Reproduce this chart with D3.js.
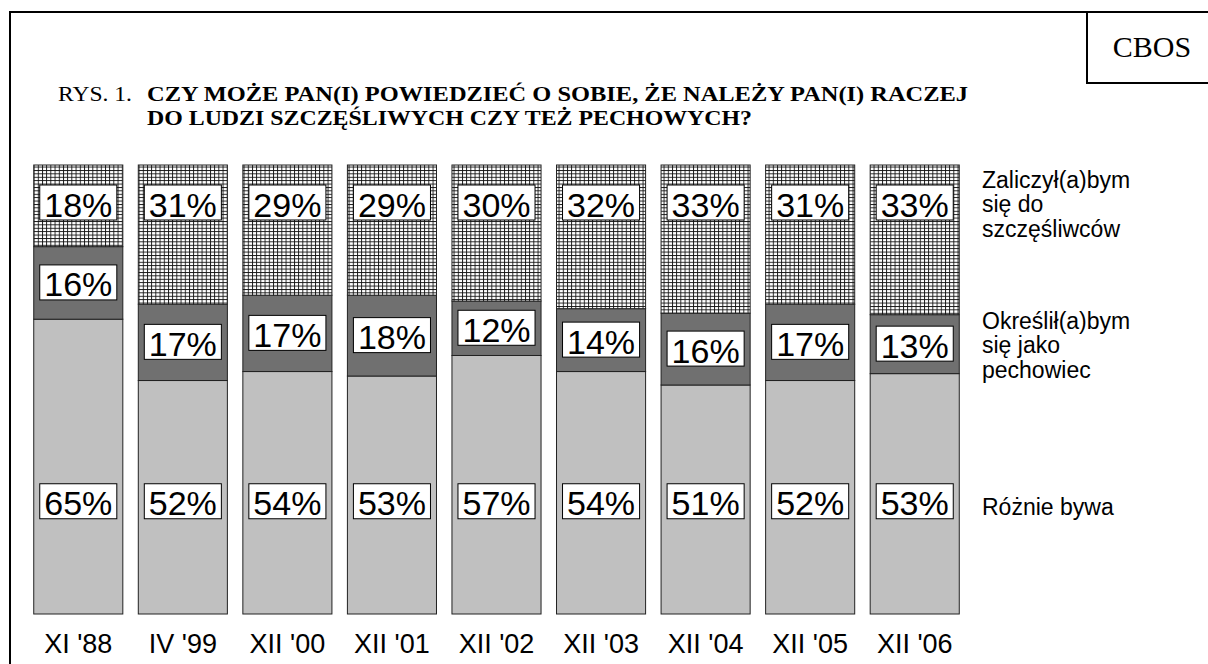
<!DOCTYPE html>
<html>
<head>
<meta charset="utf-8">
<script src="https://cdn.jsdelivr.net/npm/d3@7/dist/d3.min.js"></script>
<style>
  html, body { margin: 0; padding: 0; background: #fff; }
  svg { display: block; }
</style>
</head>
<body>
<div id="chart"></div>
<script>
'use strict';

// survey waves
const categories = ["XI '88", "IV '99", "XII '00", "XII '01", "XII '02", "XII '03", "XII '04", "XII '05", "XII '06"];

// answers, in percent
const lucky = [18, 31, 29, 29, 30, 32, 33, 31, 33];
const unlucky = [16, 17, 17, 18, 12, 14, 16, 17, 13];
const varies = [65, 52, 54, 53, 57, 54, 51, 52, 53];

// legend texts, one line per entry
const luckyName = ['Zaliczył(a)bym', 'się do', 'szczęśliwców'];
const unluckyName = ['Określił(a)bym', 'się jako', 'pechowiec'];
const variesName = ['Różnie bywa'];

const titleLines = [
    'CZY MOŻE PAN(I) POWIEDZIEĆ O SOBIE, ŻE NALEŻY PAN(I) RACZEJ',
    'DO LUDZI SZCZĘŚLIWYCH CZY TEŻ PECHOWYCH?'
];
const titleWidths = [821, 605];

const width = 1208, height = 664;
const sans = 'Arial, "Liberation Sans", sans-serif';
const serif = '"Times New Roman", "Liberation Serif", serif';

const svg = d3.select('#chart').append('svg')
    .attr('width', width)
    .attr('height', height);

// hatch for the "lucky" part
const pattern = svg.append('defs').append('pattern')
    .attr('id', 'grid')
    .attr('patternUnits', 'userSpaceOnUse')
    .attr('width', 4.2)
    .attr('height', 3.4);
pattern.append('rect').attr('width', 4.2).attr('height', 3.4).attr('fill', '#fff');
pattern.append('rect').attr('x', 0).attr('y', 0).attr('width', 0.9).attr('height', 3.4).attr('fill', '#111');
pattern.append('rect').attr('x', 0).attr('y', 0).attr('width', 4.2).attr('height', 0.9).attr('fill', '#111');

// frame
svg.append('path')
    .attr('d', `M10,${height} V12 H${width}`)
    .attr('fill', 'none').attr('stroke', '#000').attr('stroke-width', 2);
svg.append('path')
    .attr('d', `M1087,12 V83 H${width}`)
    .attr('fill', 'none').attr('stroke', '#000').attr('stroke-width', 2);
svg.append('text')
    .attr('x', 1152).attr('y', 57)
    .attr('text-anchor', 'middle')
    .style('font-family', serif).style('font-size', '30px')
    .text('CBOS');

// title
svg.append('text')
    .attr('x', 58).attr('y', 101)
    .attr('textLength', 74).attr('lengthAdjust', 'spacingAndGlyphs')
    .style('font-family', serif).style('font-size', '20px')
    .text('RYS. 1.');
svg.append('g').selectAll('text')
    .data(titleLines)
    .join('text')
    .attr('x', 147)
    .attr('y', (d, i) => 101 + i * 23.5)
    .attr('textLength', (d, i) => titleWidths[i])
    .attr('lengthAdjust', 'spacingAndGlyphs')
    .style('font-family', serif).style('font-size', '21px').style('font-weight', 'bold')
    .text(d => d);

// scales
const x = d3.scaleBand()
    .domain(categories)
    .range([26, 967])
    .paddingInner(0.148)
    .paddingOuter(0.074);

const y = d3.scaleLinear()
    .domain([0, 1])
    .range([614, 165]);

const rows = categories.map((c, i) => ({cat: c, varies: varies[i], unlucky: unlucky[i], lucky: lucky[i]}));
const keys = ['varies', 'unlucky', 'lucky'];
const fills = {varies: '#c0c0c0', unlucky: '#707070', lucky: 'url(#grid)'};

const series = d3.stack().keys(keys).offset(d3.stackOffsetExpand)(rows);

svg.append('g').selectAll('g')
    .data(series)
    .join('g')
    .attr('fill', d => fills[d.key])
    .selectAll('rect')
    .data(d => d)
    .join('rect')
    .attr('x', d => x(d.data.cat))
    .attr('y', d => y(d[1]))
    .attr('width', x.bandwidth())
    .attr('height', d => y(d[0]) - y(d[1]))
    .attr('stroke', '#222')
    .attr('stroke-width', 1);

// where each row of labels sits
const labelCenter = (key, d) => {
    if (key === 'lucky') return y(1) + 38;
    if (key === 'varies') return y(0.25);
    return (y(d[0]) + y(d[1])) / 2;
};

const labels = svg.append('g');
series.forEach(s => {
    s.forEach(d => {
        const cx = x(d.data.cat) + x.bandwidth() / 2;
        const cy = labelCenter(s.key, d);
        const g = labels.append('g');
        const box = g.append('rect')
            .attr('fill', '#fff').attr('stroke', '#000').attr('stroke-width', 1);
        const t = g.append('text')
            .attr('x', cx).attr('y', cy + 13.5)
            .attr('text-anchor', 'middle')
            .style('font-family', sans).style('font-size', '34px')
            .text(d.data[s.key] + '%');
        const w = t.node().getComputedTextLength() + 9;
        box.attr('x', cx - w / 2).attr('y', cy - 18).attr('width', w).attr('height', 35);
    });
});

// category axis
const xAxis = svg.append('g')
    .attr('transform', `translate(0,${y(0)})`)
    .call(d3.axisBottom(x).tickSize(0).tickPadding(39));
xAxis.select('.domain').remove();
xAxis.selectAll('text')
    .attr('dy', 0)
    .style('font-family', sans).style('font-size', '27px').attr('fill', '#000');

// legend, lined up with the last bar's labels
const last = categories.length - 1;
const legend = [
    {lines: luckyName, center: labelCenter('lucky', series[2][last])},
    {lines: unluckyName, center: labelCenter('unlucky', series[1][last])},
    {lines: variesName, center: labelCenter('varies', series[0][last])}
];
const lineH = 24.5;
legend.forEach((entry, k) => {
    const n = entry.lines.length;
    svg.append('g').selectAll('text')
        .data(entry.lines)
        .join('text')
        .attr('x', 982)
        .attr('y', (d, i) => entry.center + (k === 2 ? 13 : 9) + (i - (n - 1) / 2) * lineH)
        .style('font-family', sans).style('font-size', '23px')
        .text(d => d);
});
</script>
</body>
</html>
